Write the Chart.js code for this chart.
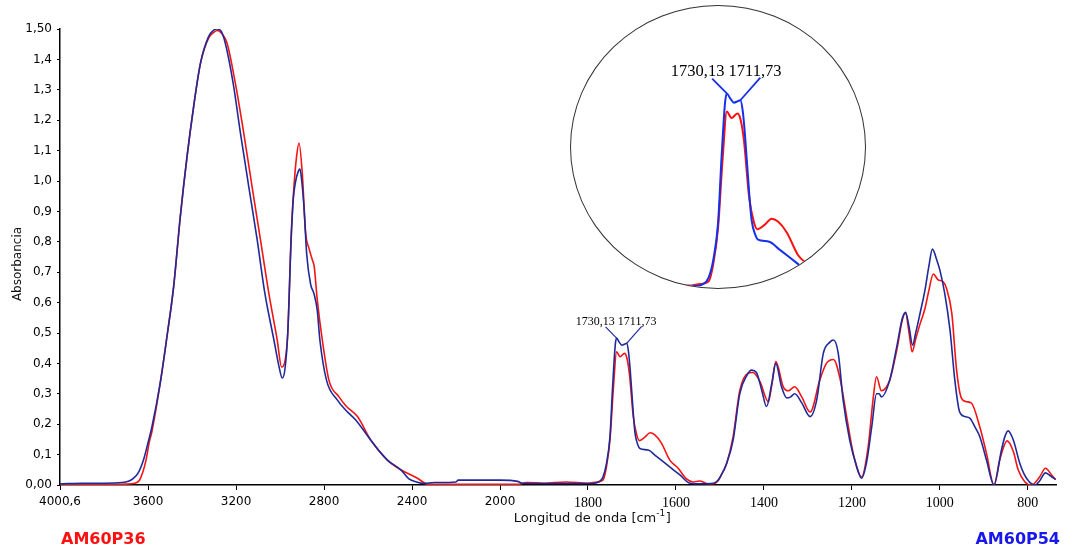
<!DOCTYPE html>
<html>
<head>
<meta charset="utf-8">
<script src="https://cdn.jsdelivr.net/npm/chart.js@4.4.1/dist/chart.umd.min.js"></script>
<style>
  html, body { margin: 0; padding: 0; background: #fff; }
  #wrap { position: relative; width: 1067px; height: 548px; }
  #main { position: absolute; left: 0; top: 0; }
  #insetClip { position: absolute; left: 570px; top: 5px; width: 296px; height: 284px;
    box-sizing: border-box; border: 1px solid #333; border-radius: 50%; overflow: hidden; background: #fff; }
  #inset { display: block; }
</style>
</head>
<body>
<div id="wrap">
  <canvas id="main" width="1067" height="548"></canvas>
  <div id="insetClip"><canvas id="inset" width="294" height="282"></canvas></div>
</div>
<script>
// ---------------- DATA ----------------
const seriesNames = ['AM60P54', 'AM60P36'];

const waveAM60P54 = [4000.6,3900,3800,3720,3690,3670,3645,3620,3600,3583,3545,3512,3484,3454,3423,3393,3362,3325,3300,3290,3270,3249,3213,3180,3142,3104,3069,3028,3005,2990,2978,2965,2950,2940,2929,2918,2910,2900,2890,2879,2861,2846,2831,2819,2789,2740,2700,2656,2588,2512,2451,2414,2380,2346,2300,2200,2190,2050,2000,1960,1950,1850,1790,1775,1766,1758,1750,1744,1738,1735,1729,1723,1716,1712,1708,1704,1697,1693,1686,1682,1663,1645,1629,1610,1591,1568,1545,1515,1505,1498,1485,1470,1455,1439,1428,1417,1405,1394,1382,1373,1360,1348,1339,1330,1314,1295,1280,1265,1250,1242,1231,1220,1205,1189,1178,1167,1155,1144,1138,1133,1114,1098,1085,1078,1070,1062,1055,1045,1034,1025,1017,1007,1000,989,977,966,955,943,932,920,909,894,877,860,852,845,833,818,803,784,773,760,746,737];
const absAM60P54  = [0.004,0.006,0.006,0.008,0.012,0.02,0.04,0.085,0.14,0.19,0.335,0.50,0.652,0.88,1.08,1.245,1.387,1.475,1.497,1.50,1.495,1.453,1.32,1.157,0.98,0.806,0.63,0.477,0.39,0.352,0.38,0.50,0.80,0.94,1.00,1.03,1.04,0.99,0.90,0.76,0.66,0.63,0.575,0.477,0.345,0.28,0.245,0.214,0.148,0.082,0.05,0.02,0.01,0.005,0.008,0.01,0.016,0.016,0.016,0.012,0.006,0.005,0.005,0.01,0.026,0.07,0.159,0.323,0.46,0.483,0.47,0.46,0.464,0.466,0.44,0.378,0.236,0.17,0.13,0.12,0.115,0.095,0.077,0.055,0.033,0.006,0.004,0.006,0.015,0.03,0.07,0.148,0.30,0.36,0.378,0.37,0.312,0.258,0.335,0.40,0.323,0.286,0.29,0.30,0.27,0.225,0.28,0.433,0.47,0.477,0.433,0.28,0.148,0.06,0.022,0.072,0.19,0.30,0.30,0.29,0.345,0.455,0.55,0.568,0.52,0.46,0.50,0.565,0.64,0.72,0.776,0.74,0.707,0.63,0.51,0.345,0.24,0.225,0.22,0.19,0.158,0.082,0.0,0.115,0.16,0.178,0.148,0.07,0.022,0.0,0.014,0.04,0.027,0.019];

const waveAM60P36 = [4000.6,3900,3800,3700,3660,3640,3625,3610,3595,3583,3545,3512,3484,3454,3423,3393,3362,3325,3300,3285,3265,3241,3203,3165,3127,3089,3051,3013,2993,2980,2965,2949,2937,2925,2914,2899,2884,2869,2853,2845,2831,2808,2778,2732,2700,2648,2588,2512,2451,2375,2330,2200,1960,1940,1900,1850,1800,1780,1766,1758,1750,1742,1735,1727,1717,1712,1706,1697,1689,1683,1670,1659,1648,1633,1614,1595,1576,1561,1546,1530,1515,1505,1498,1485,1470,1455,1436,1425,1409,1390,1382,1373,1356,1345,1330,1314,1295,1273,1258,1242,1227,1212,1197,1178,1163,1152,1144,1133,1114,1098,1085,1078,1070,1063,1055,1045,1034,1025,1015,1004,993,985,973,962,951,939,928,909,894,877,864,847,833,822,807,792,773,760,746,737];
const absAM60P36  = [0.001,0.002,0.002,0.003,0.006,0.015,0.04,0.08,0.14,0.175,0.335,0.50,0.652,0.88,1.08,1.245,1.387,1.47,1.49,1.495,1.485,1.453,1.32,1.157,0.98,0.806,0.63,0.477,0.388,0.40,0.50,0.83,0.98,1.08,1.125,1.025,0.83,0.78,0.74,0.72,0.61,0.477,0.345,0.29,0.26,0.225,0.148,0.082,0.05,0.022,0.003,0.002,0.002,0.008,0.006,0.01,0.006,0.01,0.016,0.06,0.148,0.323,0.438,0.422,0.433,0.42,0.368,0.225,0.164,0.146,0.158,0.172,0.165,0.138,0.082,0.055,0.02,0.01,0.013,0.005,0.004,0.012,0.03,0.07,0.159,0.31,0.368,0.37,0.34,0.274,0.33,0.406,0.323,0.31,0.323,0.29,0.24,0.345,0.40,0.413,0.35,0.225,0.104,0.027,0.126,0.28,0.356,0.31,0.345,0.444,0.545,0.565,0.50,0.438,0.48,0.53,0.58,0.64,0.694,0.675,0.669,0.647,0.566,0.378,0.286,0.274,0.269,0.19,0.104,0.0,0.082,0.145,0.11,0.05,0.011,0.0,0.027,0.055,0.033,0.017];

const xTickValues = [4000.6,3600,3200,2800,2400,2000,1800,1600,1400,1200,1000,800];
const xTickLabels = ['4000,6','3600','3200','2800','2400','2000','1800','1600','1400','1200','1000','800'];
const yTickValues = [0,0.1,0.2,0.3,0.4,0.5,0.6,0.7,0.8,0.9,1.0,1.1,1.2,1.3,1.4,1.5];
const yTickLabels = ['0,00','0,1','0,2','0,3','0,4','0,5','0,6','0,7','0,8','0,9','1,0','1,1','1,2','1,3','1,4','1,50'];
const peakLabels = ['1730,13', '1711,73'];
const peakWaves  = [1735, 1712];

const xTitle = 'Longitud de onda [cm';
const xTitleSup = '-1';
const xTitleEnd = ']';
const yTitle = 'Absorbancia';

// ---------------- SCALE WITH BREAK ----------------
const X_BREAK = 2000, X_STRETCH = 2;
class BreakScale extends Chart.LinearScale {
  _units(v) {
    const hi = this.max;
    return v >= X_BREAK ? hi - v : (hi - X_BREAK) + (X_BREAK - v) * X_STRETCH;
  }
  getPixelForValue(v) {
    const total = this._units(this.min);
    return this.left + this.width * this._units(v) / total;
  }
  getValueForPixel(p) {
    const total = this._units(this.min);
    const u = (p - this.left) / this.width * total;
    const hiU = this.max - X_BREAK;
    return u <= hiU ? this.max - u : X_BREAK - (u - hiU) / X_STRETCH;
  }
}
BreakScale.id = 'breakLinear';
BreakScale.defaults = {};
Chart.register(BreakScale);

const toPts = (w, a) => w.map((x, i) => ({ x: x, y: a[i] }));
const ptsBlue = toPts(waveAM60P54, absAM60P54);
const ptsRed  = toPts(waveAM60P36, absAM60P36);

function blueAt(w) {
  const i = waveAM60P54.indexOf(w);
  return absAM60P54[i];
}

// peak annotation plugin (used in main chart and inset)
function makePeakPlugin(id, fontPx, lineColor, lineW) {
  return {
    id: id,
    afterDatasetsDraw(chart) {
      const xs = chart.scales.x, ys = chart.scales.y, ctx = chart.ctx;
      ctx.save();
      const starts = [{ x: 1760, y: 0.52 }, { x: 1678, y: 0.522 }];
      ctx.strokeStyle = lineColor;
      ctx.lineWidth = lineW;
      peakWaves.forEach((w, i) => {
        ctx.beginPath();
        ctx.moveTo(xs.getPixelForValue(starts[i].x), ys.getPixelForValue(starts[i].y));
        ctx.lineTo(xs.getPixelForValue(w), ys.getPixelForValue(blueAt(w)));
        ctx.stroke();
      });
      ctx.fillStyle = '#000';
      ctx.font = fontPx + 'px "Liberation Serif", "DejaVu Serif", serif';
      ctx.textAlign = 'center';
      ctx.textBaseline = 'middle';
      ctx.fillText(peakLabels.join(' '), xs.getPixelForValue(1736), ys.getPixelForValue(0.536));
      ctx.restore();
    }
  };
}

const decorPlugin = {
  id: 'decor',
  afterDraw(chart) {
    const ctx = chart.ctx;
    ctx.save();
    // y title
    ctx.fillStyle = '#111';
    ctx.font = '12px "DejaVu Sans", sans-serif';
    ctx.textAlign = 'center';
    ctx.textBaseline = 'middle';
    ctx.translate(17.5, 264);
    ctx.rotate(-Math.PI / 2);
    ctx.fillText(yTitle, 0, 0);
    ctx.setTransform(1, 0, 0, 1, 0, 0);
    // x title with superscript
    const fMain = '13px "DejaVu Sans", sans-serif';
    const fSup = '9px "DejaVu Sans", sans-serif';
    ctx.font = fMain; const w1 = ctx.measureText(xTitle).width; const w3 = ctx.measureText(xTitleEnd).width;
    ctx.font = fSup; const w2 = ctx.measureText(xTitleSup).width;
    let x0 = 592 - (w1 + w2 + w3) / 2;
    const yb = 522;
    ctx.textAlign = 'left';
    ctx.textBaseline = 'alphabetic';
    ctx.font = fMain; ctx.fillText(xTitle, x0, yb);
    ctx.font = fSup; ctx.fillText(xTitleSup, x0 + w1, yb - 6);
    ctx.font = fMain; ctx.fillText(xTitleEnd, x0 + w1 + w2 + 0.5, yb);
    // series labels
    ctx.font = 'bold 16px "DejaVu Sans", sans-serif';
    ctx.textBaseline = 'middle';
    ctx.fillStyle = '#ff1010';
    ctx.textAlign = 'left';
    ctx.fillText(chart.data.datasets[1].label, 61, 540);
    ctx.fillStyle = '#1818ee';
    ctx.textAlign = 'right';
    ctx.fillText(chart.data.datasets[0].label, 1060, 540);
    ctx.restore();
  }
};

// ---------------- MAIN CHART ----------------
new Chart(document.getElementById('main'), {
  type: 'line',
  data: {
    datasets: [
      { label: seriesNames[0], data: ptsBlue, borderColor: '#1f2a9a', borderWidth: 1.6,
        pointRadius: 0, cubicInterpolationMode: 'monotone', fill: false },
      { label: seriesNames[1], data: ptsRed, borderColor: '#f41414', borderWidth: 1.6,
        pointRadius: 0, cubicInterpolationMode: 'monotone', fill: false }
    ]
  },
  options: {
    responsive: false, animation: false, devicePixelRatio: 1,
    layout: { padding: { top: 29, right: 11, left: 0, bottom: 0 } },
    plugins: { legend: { display: false }, tooltip: { enabled: false } },
    scales: {
      x: {
        type: 'breakLinear', min: 736, max: 4000.6, bounds: 'data',
        afterBuildTicks: s => { s.ticks = xTickValues.map(v => ({ value: v })); },
        afterFit: s => { s.height = 63; },
        ticks: {
          autoSkip: false, maxRotation: 0, minRotation: 0, padding: 5, color: '#000',
          font: c => (c.tick && c.tick.value < 2000)
            ? { family: '"Liberation Serif", "DejaVu Serif", serif', size: 14 }
            : { family: '"DejaVu Sans", sans-serif', size: 12 },
          callback: (v, i) => xTickLabels[i]
        },
        grid: { drawOnChartArea: false, drawTicks: true, tickLength: 5, tickColor: '#000', tickWidth: 1 },
        border: { display: true, color: '#000', width: 1.5 }
      },
      y: {
        type: 'linear', min: 0, max: 1.5, bounds: 'data',
        afterBuildTicks: s => { s.ticks = yTickValues.map(v => ({ value: v })); },
        afterFit: s => { s.width = 60; },
        ticks: { autoSkip: false, padding: 5, color: '#000',
          font: { family: '"DejaVu Sans", sans-serif', size: 12 },
          callback: (v, i) => yTickLabels[i] },
        grid: { drawOnChartArea: false, drawTicks: true, tickLength: 3, tickColor: '#000', tickWidth: 1 },
        border: { display: true, color: '#000', width: 1.5 }
      }
    }
  },
  plugins: [makePeakPlugin('peakMain', 12, '#1f2a9a', 1.2), decorPlugin]
});

// ---------------- INSET (magnified) ----------------
new Chart(document.getElementById('inset'), {
  type: 'line',
  data: {
    datasets: [
      { label: seriesNames[0], data: ptsBlue, borderColor: '#1530e8', borderWidth: 2,
        pointRadius: 0, cubicInterpolationMode: 'monotone', fill: false },
      { label: seriesNames[1], data: ptsRed, borderColor: '#ff1010', borderWidth: 2,
        pointRadius: 0, cubicInterpolationMode: 'monotone', fill: false }
    ]
  },
  options: {
    responsive: false, animation: false, devicePixelRatio: 1,
    layout: { padding: 0 },
    plugins: { legend: { display: false }, tooltip: { enabled: false } },
    scales: {
      x: { type: 'linear', min: 1500, max: 2000, reverse: true, display: false, bounds: 'data' },
      y: { type: 'linear', min: 0, max: 0.7, display: false, bounds: 'data' }
    }
  },
  plugins: [makePeakPlugin('peakInset', 16.5, '#1530e8', 1.8)]
});
</script>
</body>
</html>
